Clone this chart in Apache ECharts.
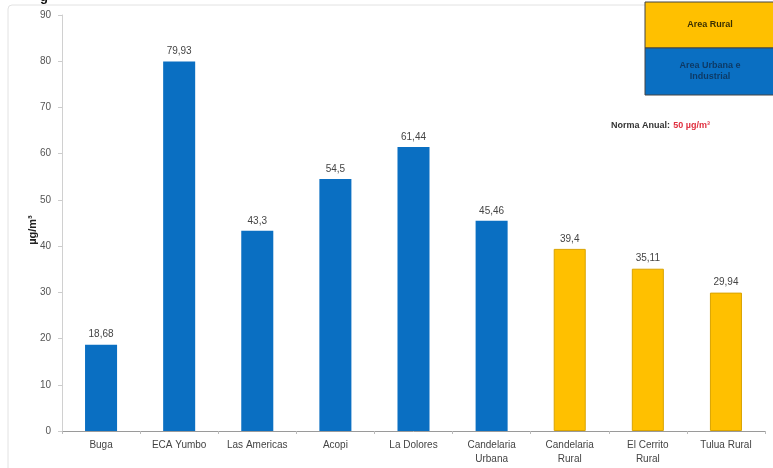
<!DOCTYPE html>
<html>
<head>
<meta charset="utf-8">
<script src="https://cdn.jsdelivr.net/npm/echarts@6/dist/echarts.min.js"></script>
<style>
  html, body { margin: 0; padding: 0; background: #fff; }
  #main { width: 773px; height: 468px; }
</style>
</head>
<body>
<div id="main"></div>
<script>
// stations, values and zone type
const stations = ['Buga', 'ECA Yumbo', 'Las Americas', 'Acopi', 'La Dolores',
  'Candelaria\nUrbana', 'Candelaria\nRural', 'El Cerrito\nRural', 'Tulua Rural'];
const values = [18.68, 79.93, 43.3, 54.5, 61.44, 45.46, 39.4, 35.11, 29.94];
const labels = ['18,68', '79,93', '43,3', '54,5', '61,44', '45,46', '39,4', '35,11', '29,94'];
const zones = ['urban', 'urban', 'urban', 'urban', 'urban', 'urban', 'rural', 'rural', 'rural'];
const yTicks = [0, 90, 10];
const unit = 'µg/m³';

const BLUE = '#0a6fc2';
const YELLOW = '#ffc000';
const font = '"Liberation Sans", Arial, sans-serif';

const myChart = echarts.init(document.getElementById('main'));

const barData = values.map((v, i) => ({
  value: v,
  itemStyle: zones[i] === 'rural'
    ? { color: YELLOW, borderColor: '#d9a300', borderWidth: 1 }
    : { color: BLUE }
}));

const option = {
  backgroundColor: '#fff',
  animation: false,
  textStyle: { fontFamily: font },
  grid: { left: 62, right: 8, top: 15, bottom: 37 },
  xAxis: {
    type: 'category',
    data: stations,
    axisLine: { lineStyle: { color: '#9a9a9a' } },
    axisTick: { show: true, length: 3, lineStyle: { color: '#bbb' } },
    axisLabel: { color: '#444', fontSize: 10, lineHeight: 14, margin: 7, interval: 0 }
  },
  yAxis: {
    type: 'value',
    min: yTicks[0],
    max: yTicks[1],
    interval: yTicks[2],
    axisLine: { show: true, lineStyle: { color: '#d0d0d0' } },
    axisTick: { show: true, length: 4, lineStyle: { color: '#ccc' } },
    axisLabel: { color: '#555', fontSize: 10, margin: 11 },
    splitLine: { show: false }
  },
  series: [{
    type: 'bar',
    data: barData,
    barWidth: '41%',
    label: {
      show: true,
      position: 'top',
      distance: 5,
      color: '#444',
      fontSize: 10,
      formatter: p => labels[p.dataIndex]
    }
  }],
  graphic: [
    {
      type: 'rect', silent: true, z: -1,
      shape: { x: 8, y: 5, width: 780, height: 470, r: 4 },
      style: { fill: 'none', stroke: '#e2e2e2', lineWidth: 1 }
    },
    {
      type: 'text', left: 40, top: -9,
      style: { text: 'g', fill: '#111', font: 'bold 13px ' + font }
    },
    // y axis title
    {
      type: 'text', x: 33, y: 230, rotation: Math.PI / 2,
      style: { text: unit, fill: '#222', font: 'bold 11px ' + font, align: 'center', verticalAlign: 'middle' }
    },
    {
      type: 'rect',
      shape: { x: 645, y: 2, width: 130, height: 46 },
      style: { fill: YELLOW, stroke: '#444', lineWidth: 1 }
    },
    {
      type: 'rect',
      shape: { x: 645, y: 48, width: 130, height: 47 },
      style: { fill: BLUE, stroke: '#444', lineWidth: 1 }
    },
    {
      type: 'text', x: 710, y: 25,
      style: { text: 'Area Rural', fill: '#3a2f00', font: 'bold 9px ' + font, align: 'center', verticalAlign: 'middle' }
    },
    {
      type: 'text', x: 710, y: 71,
      style: { text: 'Area Urbana e\nIndustrial', fill: '#0d3a66', font: 'bold 9px ' + font, align: 'center', verticalAlign: 'middle', lineHeight: 11 }
    },
    {
      type: 'text', x: 611, y: 126,
      style: {
        text: '{a|Norma Anual:} {b|50 µg/m³}',
        verticalAlign: 'middle',
        rich: {
          a: { fill: '#333', font: 'bold 9px ' + font },
          b: { fill: '#e03040', font: 'bold 9px ' + font }
        }
      }
    }
  ]
};

myChart.setOption(option);
</script>
</body>
</html>
